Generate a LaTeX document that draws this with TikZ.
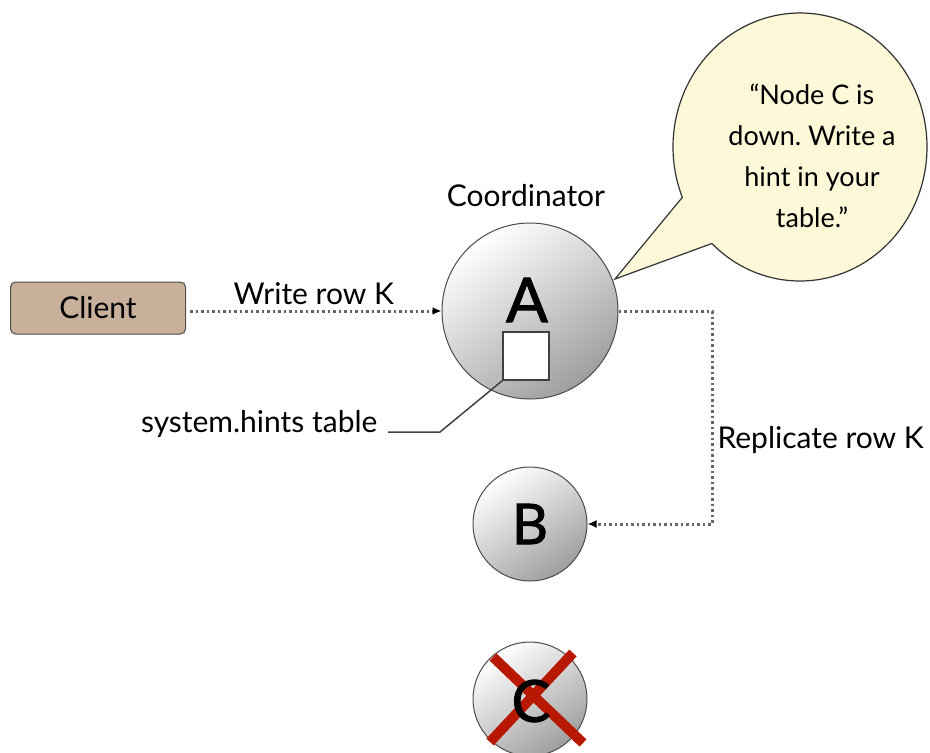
\documentclass[tikz,border=0pt]{standalone}
\usepackage{fontspec}
\setmainfont{Lato}
\usetikzlibrary{positioning,shapes.callouts,arrows.meta}
\definecolor{clientfill}{HTML}{C8B09A}
\definecolor{bubblefill}{HTML}{FCF8D8}
\definecolor{crossred}{HTML}{B81800}
\frenchspacing
\tikzset{
  srv/.style={circle,draw=black!70,line width=1pt,shade,top color=white,bottom color=black!38,shading angle=35,inner sep=0pt},
  msg/.style={draw=black!60,line width=3pt,dash pattern=on 2.5pt off 3pt,-{Latex[black,length=9pt,width=8pt]}},
  txt/.style={font=\fontsize{30}{36}\selectfont},
  letter/.style={font=\fontsize{#1}{#1}\selectfont\addfontfeatures{FakeBold=1.6},inner sep=0pt},
}
\begin{document}
\begin{tikzpicture}[x=1pt,y=-1pt]
  \useasboundingbox (0,0) rectangle (930,753);
  % servers
  \node[srv,minimum size=176pt] (A) at (530,311) {};
  \node[srv,minimum size=114pt] (B) at (530,524) {};
  \node[srv,minimum size=114pt] (C) at (530,699) {};
  \foreach \a/\b in {{(493,657)}/{(583,743)},{(573,653)}/{(490,742)}}{
    \draw[crossred,line width=10pt] \a -- \b;
  };
  \node[letter=62] (Aname) at (527,300) {A};
  \node[letter=56] (Bname) at (530,524) {B};
  \node[letter=58] (Cname) at (531,701) {C};
  \node[draw=black!75,fill=white,line width=1.2pt,minimum width=46pt,minimum height=48pt] (hints) at (526,356) {};
  \node[txt] (coord) at (526,196) {Coordinator};
  % client
  \node[draw=black!70,fill=clientfill,rounded corners=5pt,line width=1pt,minimum width=175pt,minimum height=52pt,txt] (client) at (98,308) {Client};
  \draw[msg,shorten <=4pt] (client.east |- A.west) -- (A.west) node[midway,above=1pt,txt] (write) {Write row K};
  % replication
  \coordinate (turn) at (712,311);
  \draw[msg] (A.east) -- (turn) |- (B.east);
  \node[txt,anchor=west] (repl) at (714,440) {Replicate row K};
  % hints table label
  \node[txt,anchor=east] (hintlabel) at (381,424) {system.hints table};
  \coordinate (bend) at (440,432);
  \coordinate (hinttail) at (388,432);
  \draw[black!75,line width=1.5pt] (hints.south west) -- (bend) -- (hinttail);
  % speech bubble
  \coordinate (tip) at (615,279);
  \node[ellipse callout,draw=black!80,line width=1.2pt,fill=bubblefill,minimum width=254pt,minimum height=268pt,
        callout absolute pointer={(tip)},callout pointer arc=24] (hint) at (800,147) {};
  \node[align=center,font=\fontsize{27}{41}\selectfont] (hinttext) at (812,156) {``Node C is\\down. Write a\\hint in your\\table.''};
\end{tikzpicture}
\end{document}
